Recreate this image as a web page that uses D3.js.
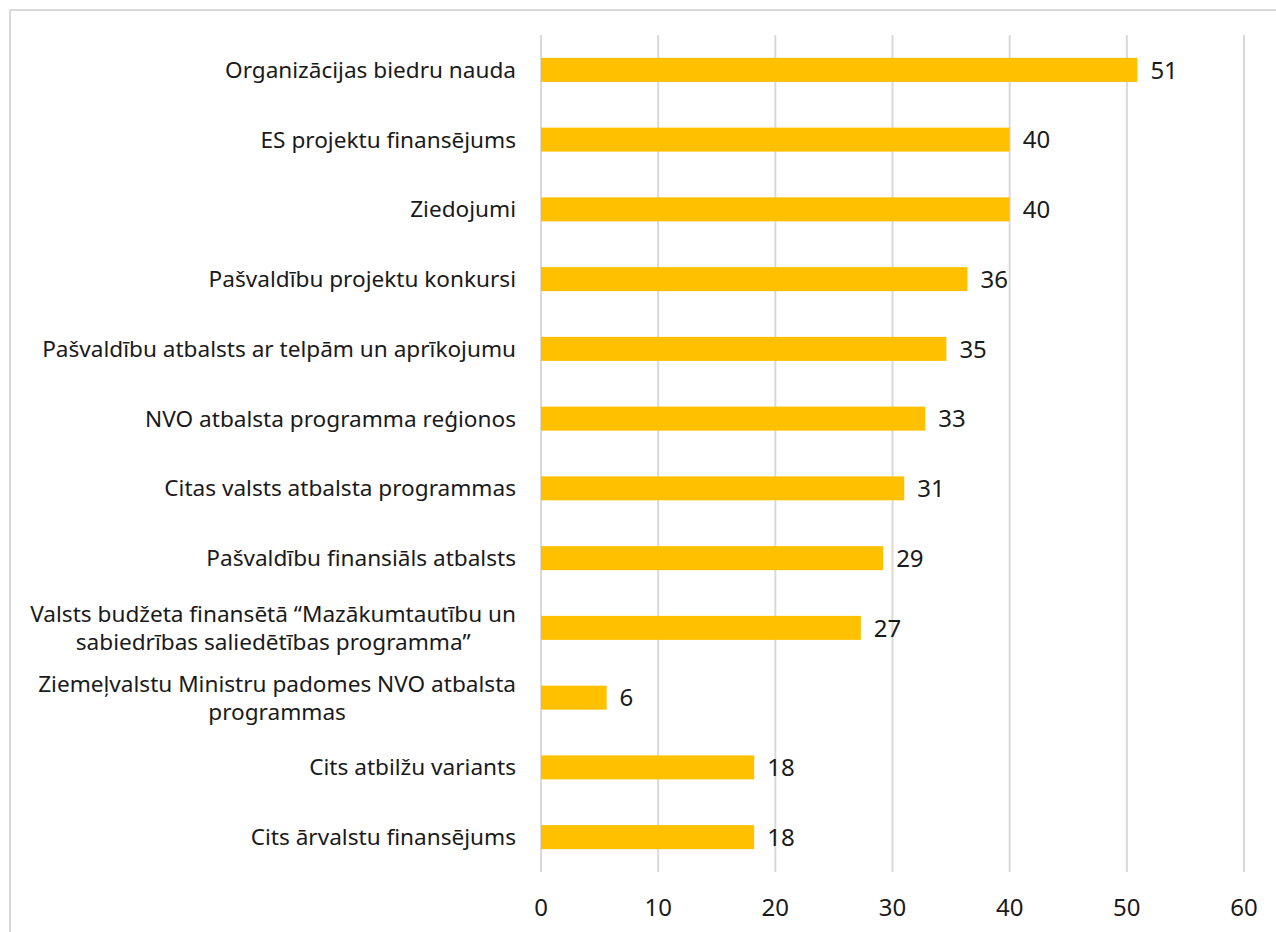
<!DOCTYPE html>
<html>
<head>
<meta charset="utf-8">
<script src="https://cdn.jsdelivr.net/npm/d3@7"></script>
<style>
  body { margin: 0; background: #fff; }
  svg { display: block; font-family: "Noto Sans", "Open Sans", sans-serif; }
</style>
</head>
<body>
<svg id="chart" width="1276" height="932"></svg>
<script>
// category labels, top to bottom (lines split where the original wraps)
var categories = [
    ["Organizācijas biedru nauda"],
    ["ES projektu finansējums"],
    ["Ziedojumi"],
    ["Pašvaldību projektu konkursi"],
    ["Pašvaldību atbalsts ar telpām un aprīkojumu"],
    ["NVO atbalsta programma reģionos"],
    ["Citas valsts atbalsta programmas"],
    ["Pašvaldību finansiāls atbalsts"],
    ["Valsts budžeta finansētā “Mazākumtautību un", "sabiedrības saliedētības programma”"],
    ["Ziemeļvalstu Ministru padomes NVO atbalsta", "programmas"],
    ["Cits atbilžu variants"],
    ["Cits ārvalstu finansējums"]
];
var values = [50.9, 40.0, 40.0, 36.4, 34.6, 32.8, 31.0, 29.2, 27.3, 5.6, 18.2, 18.2];
var xTicks = [0, 10, 20, 30, 40, 50, 60];

var svg = d3.select("#chart");

// outer chart frame (runs off the right/bottom of the picture)
svg.append("rect")
    .attr("x", 10).attr("y", 10)
    .attr("width", 1300).attr("height", 960)
    .attr("fill", "none")
    .attr("stroke", "#d9d9d9")
    .attr("stroke-width", 2);

var plotLeft = 541, plotRight = 1244, plotTop = 35, plotBottom = 872;
var labelSize = 22.6, numSize = 24;

var x = d3.scaleLinear().domain([0, 60]).range([plotLeft, plotRight]);
var y = d3.scaleBand()
    .domain(d3.range(categories.length))
    .range([plotTop, plotBottom])
    .paddingInner(0.656)
    .paddingOuter(0.328);

// vertical gridlines
svg.append("g").selectAll("line")
    .data(xTicks)
    .enter()
    .append("line")
    .attr("x1", function (d) { return x(d); })
    .attr("x2", function (d) { return x(d); })
    .attr("y1", plotTop).attr("y2", plotBottom)
    .attr("stroke", "#d9d9d9")
    .attr("stroke-width", 2);

// bars
svg.append("g").selectAll("rect")
    .data(values)
    .enter()
    .append("rect")
    .attr("x", x(0))
    .attr("y", function (d, i) { return y(i); })
    .attr("width", function (d) { return x(d) - x(0); })
    .attr("height", y.bandwidth())
    .attr("fill", "#ffc000");

// value labels
svg.append("g").selectAll("text")
    .data(values)
    .enter()
    .append("text")
    .attr("x", function (d) { return x(d) + 13; })
    .attr("y", function (d, i) { return y(i) + y.bandwidth() / 2; })
    .attr("dy", "0.36em")
    .attr("font-size", numSize)
    .attr("fill", "#1a1a1a")
    .text(function (d) { return d3.format(".0f")(d); });

// x tick labels
svg.append("g").selectAll("text")
    .data(xTicks)
    .enter()
    .append("text")
    .attr("x", function (d) { return x(d); })
    .attr("y", 907)
    .attr("dy", "0.36em")
    .attr("text-anchor", "middle")
    .attr("font-size", numSize)
    .attr("fill", "#1a1a1a")
    .text(function (d) { return d; });

// category labels: block right-aligned, lines centred inside the block
var labelRight = 516, lineH = 28;
var cat = svg.append("g").selectAll("g")
    .data(categories)
    .enter()
    .append("g");

cat.each(function (lines, i) {
    var g = d3.select(this);
    var cy = y(i) + y.bandwidth() / 2;
    var texts = g.selectAll("text")
        .data(lines)
        .enter()
        .append("text")
        .attr("font-size", labelSize)
        .attr("fill", "#1a1a1a")
        .attr("text-anchor", "middle")
        .attr("y", function (d, k) { return cy + (k - (lines.length - 1) / 2) * lineH; })
        .attr("dy", "0.35em")
        .text(function (d) { return d; });
    var maxW = 0;
    texts.each(function () { maxW = Math.max(maxW, this.getComputedTextLength()); });
    texts.attr("x", labelRight - maxW / 2);
});
</script>
</body>
</html>
